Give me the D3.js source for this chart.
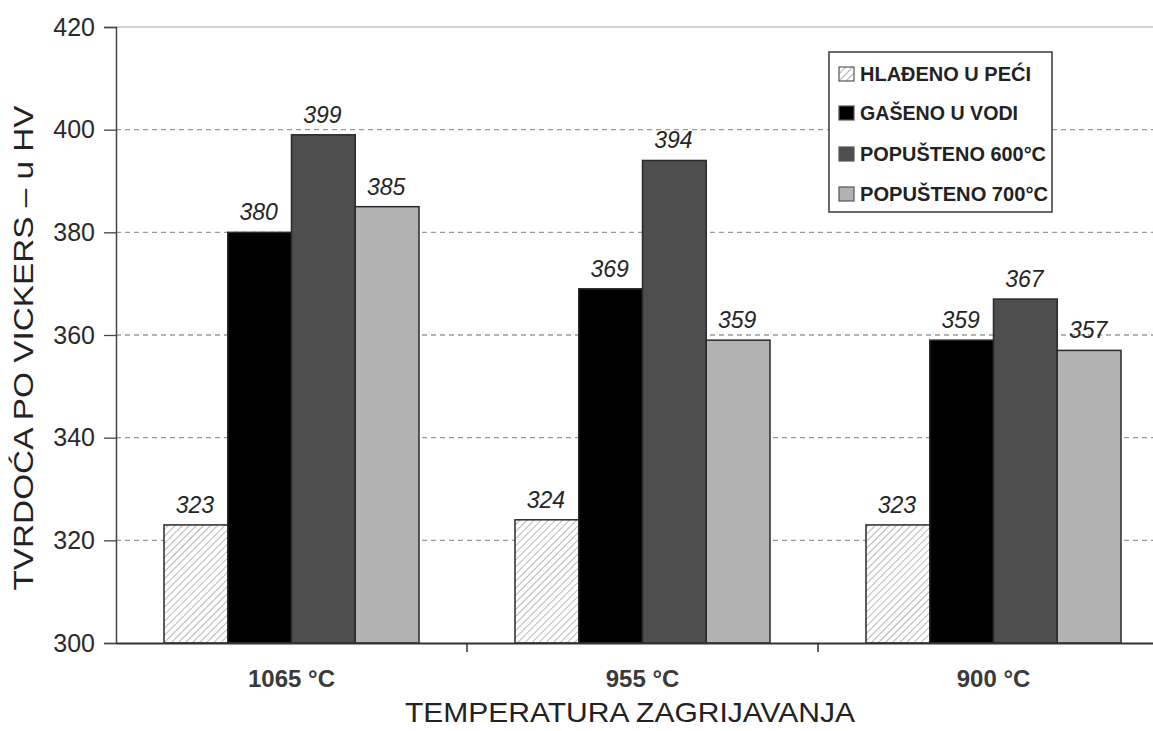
<!DOCTYPE html>
<html><head><meta charset="utf-8">
<script src="https://cdn.jsdelivr.net/npm/d3@7"></script>
<style>body{margin:0;background:#fff}svg{display:block}</style>
</head><body><svg id="c" width="1153" height="731"></svg>
<script>
const categories = ["1065 °C", "955 °C", "900 °C"];
const seriesNames = ["HLAĐENO U PEĆI", "GAŠENO U VODI", "POPUŠTENO 600°C", "POPUŠTENO 700°C"];
const hladeno = [323, 324, 323];
const gaseno = [380, 369, 359];
const popusteno600 = [399, 394, 367];
const popusteno700 = [385, 359, 357];
const yTicks = [300, 320, 340, 360, 380, 400, 420];

const series = [hladeno, gaseno, popusteno600, popusteno700];
const fills = ["url(#hatch)", "#000000", "#4e4e4e", "#b2b2b2"];

const svg = d3.select("#c");
const font = "'Liberation Sans', Arial, sans-serif";
const defs = svg.append("defs");
const pat = defs.append("pattern").attr("id","hatch").attr("patternUnits","userSpaceOnUse")
  .attr("width",5).attr("height",5).attr("patternTransform","rotate(45)");
pat.append("rect").attr("width",5).attr("height",5).attr("fill","#fff");
pat.append("line").attr("x1",0).attr("y1",0).attr("x2",0).attr("y2",5).attr("stroke","#9a9a9a").attr("stroke-width",1.4);

const x0 = 116, x1 = 1169, yTop = 27, yBot = 643;
const x = d3.scaleBand().domain(categories).range([x0, x1]).paddingInner(0).paddingOuter(0);
const xs = d3.scaleBand().domain(d3.range(4)).range([48, x.bandwidth()-48]).padding(0);
const y = d3.scaleLinear().domain([300, 420]).range([yBot, yTop]);

// gridlines
svg.append("g").selectAll("line").data(yTicks.filter(t => t > 300 && t < 420)).join("line")
  .attr("x1", x0).attr("x2", 1153).attr("y1", d => y(d)).attr("y2", d => y(d))
  .attr("stroke", "#9a9a9a").attr("stroke-width", 1.3).attr("stroke-dasharray", "5,4");
svg.append("line").attr("x1", x0).attr("x2", 1153).attr("y1", y(420)).attr("y2", y(420))
  .attr("stroke", "#c4c4c4").attr("stroke-width", 1.5);

// bars
const g = svg.append("g");
categories.forEach((c, ci) => {
  series.forEach((s, si) => {
    const bx = x(c) + xs(si);
    g.append("rect").attr("x", bx).attr("y", y(s[ci])).attr("width", xs.bandwidth())
      .attr("height", y(300) - y(s[ci])).attr("fill", fills[si])
      .attr("stroke", "#2a2a2a").attr("stroke-width", 1.5);
    g.append("text").attr("x", bx + xs.bandwidth()/2 - 1).attr("y", y(s[ci]) - 12)
      .attr("text-anchor", "middle").attr("font-family", font).attr("font-style", "italic")
      .attr("font-size", 23).attr("fill", "#262626").text(s[ci]);
  });
});

// y axis
const ya = svg.append("g").attr("transform", `translate(${x0},0)`)
  .call(d3.axisLeft(y).tickValues(yTicks).tickSize(12).tickPadding(9));
ya.select(".domain").attr("stroke", "#444").attr("stroke-width", 1.5);
ya.selectAll(".tick line").attr("stroke", "#444").attr("stroke-width", 1.3);
ya.selectAll("text").attr("font-family", font).attr("font-size", 25).attr("fill", "#2a2a2a");

// x axis
const xa = svg.append("g").attr("transform", `translate(0,${yBot})`)
  .call(d3.axisBottom(x).tickSize(0).tickPadding(27));
xa.select(".domain").attr("stroke", "#333").attr("stroke-width", 1.8);
xa.selectAll("text").attr("font-family", font).attr("font-size", 24).attr("font-weight", "bold").attr("fill", "#3a3a3a");
// separators
svg.append("g").selectAll("line").data(categories.slice(1)).join("line")
  .attr("x1", d => x(d)).attr("x2", d => x(d)).attr("y1", yBot).attr("y2", yBot + 9)
  .attr("stroke", "#333").attr("stroke-width", 1.5);

// titles
svg.append("text").attr("x", 630).attr("y", 722).attr("text-anchor", "middle")
  .attr("font-family", font).attr("font-size", 28).attr("fill", "#222")
  .attr("textLength", 450).attr("lengthAdjust", "spacingAndGlyphs").text("TEMPERATURA ZAGRIJAVANJA");
svg.append("text").attr("transform", "translate(33,348) rotate(-90)").attr("text-anchor", "middle")
  .attr("font-family", font).attr("font-size", 27).attr("fill", "#222")
  .attr("textLength", 485).attr("lengthAdjust", "spacingAndGlyphs").text("TVRDOĆA PO VICKERS – u HV");

// legend
const lg = svg.append("g");
lg.append("rect").attr("x", 829).attr("y", 52).attr("width", 223).attr("height", 160)
  .attr("fill", "#fff").attr("stroke", "#444").attr("stroke-width", 1.6);
const rowsY = [74, 113, 154, 194];
const rowsW = [171, 158, 186, 188];
seriesNames.forEach((n, i) => {
  lg.append("rect").attr("x", 839).attr("y", rowsY[i] - 7).attr("width", 15).attr("height", 14)
    .attr("fill", fills[i]).attr("stroke", "#555").attr("stroke-width", 1.2);
  lg.append("text").attr("x", 860).attr("y", rowsY[i] + 7).attr("font-family", font)
    .attr("font-size", 20).attr("font-weight", "bold").attr("fill", "#222")
    .attr("textLength", rowsW[i]).attr("lengthAdjust", "spacingAndGlyphs").text(n);
});
</script></body></html>
